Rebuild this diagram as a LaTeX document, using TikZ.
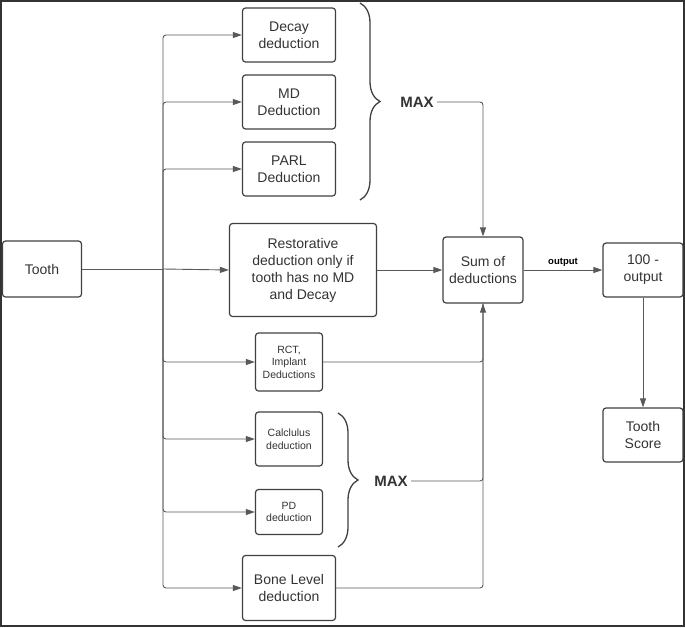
\documentclass[tikz,border=0pt]{standalone}
\usepackage{fontspec}
\setmainfont{Liberation Sans}
\usetikzlibrary{arrows.meta,decorations.pathreplacing}
\tikzset{
  box/.style={draw=black!75, line width=1.2pt, rounded corners=3pt, align=center, font=\fontsize{14}{17}\selectfont, text=black!80},
  sbox/.style={box, font=\fontsize{10.5}{12.5}\selectfont},
  flow/.style={draw=black!65, line width=0.9pt, -{Triangle[length=9pt,width=6pt]}, rounded corners=3pt},
  line/.style={draw=black!65, line width=0.9pt, rounded corners=3pt},
  brc/.style={draw=black!75, line width=1.3pt, decorate, decoration={brace, amplitude=20pt}},
  maxlbl/.style={font=\fontsize{15}{17}\selectfont\bfseries, text=black!80}
}
\begin{document}
\begin{tikzpicture}[x=1pt, y=-1pt]
  \useasboundingbox (0,0) rectangle (685,627);
  \draw[black!80, line width=1.5pt] (1,1) rectangle (684,626);
  % nodes
  \node[box, minimum width=79pt, minimum height=56pt] (tooth) at (42,269) {Tooth};
  \node[box, minimum width=93pt, minimum height=54pt] (decay) at (289,35) {Decay\\deduction};
  \node[box, minimum width=93pt, minimum height=54pt] (md) at (289,102) {MD\\Deduction};
  \node[box, minimum width=93pt, minimum height=54pt] (parl) at (289,169) {PARL\\Deduction};
  \node[box, minimum width=147pt, minimum height=93pt] (rest) at (303,270) {Restorative\\deduction only if\\tooth has no MD\\and Decay};
  \node[box, minimum width=80pt, minimum height=66pt] (sum) at (483,270) {Sum of\\deductions};
  \node[box, minimum width=80pt, minimum height=54pt] (hund) at (643,270) {100 -\\output};
  \node[box, minimum width=80pt, minimum height=54pt] (score) at (643,435) {Tooth\\Score};
  \node[sbox, minimum width=67pt, minimum height=58pt] (rct) at (289,362) {RCT,\\Implant\\Deductions};
  \node[sbox, minimum width=67pt, minimum height=54pt] (calc) at (289,439) {Calclulus\\deduction};
  \node[sbox, minimum width=67pt, minimum height=45pt] (pd) at (289,512) {PD\\deduction};
  \node[box, minimum width=93pt, minimum height=65pt] (bone) at (289,588) {Bone Level\\deduction};
  \coordinate (trunk) at (163,269);
  % braces and MAX
  \draw[brc] (360,3) -- (360,200);
  \node[maxlbl] (max1) at (417,102) {MAX};
  \draw[brc] (338,413) -- (338,547);
  \node[maxlbl] (max2) at (391,481) {MAX};
  % fan out from tooth
  \draw[line] (tooth.east) -- (trunk);
  \draw[flow] (trunk) -- (rest.west);
  \foreach \tgt in {decay, md, parl} {
    \draw[flow] (trunk) |- (\tgt.west);
  }
  \foreach \tgt in {rct, calc, pd, bone} {
    \draw[flow] (trunk) |- (\tgt.west);
  }
  % into the sum
  \draw[flow] (max1.east) -| (sum.north);
  \draw[flow] (rest.east) -- (sum.west);
  \draw[line] (rct.east) -| (sum.south);
  \draw[line] (max2.east) -| (sum.south);
  \draw[flow] (bone.east) -| (sum.south);
  \draw[flow] (sum.east) -- node[above, font=\fontsize{9.5}{11}\selectfont\bfseries] {output} (hund.west);
  \draw[flow] (hund.south) -- (score.north);
\end{tikzpicture}
\end{document}
